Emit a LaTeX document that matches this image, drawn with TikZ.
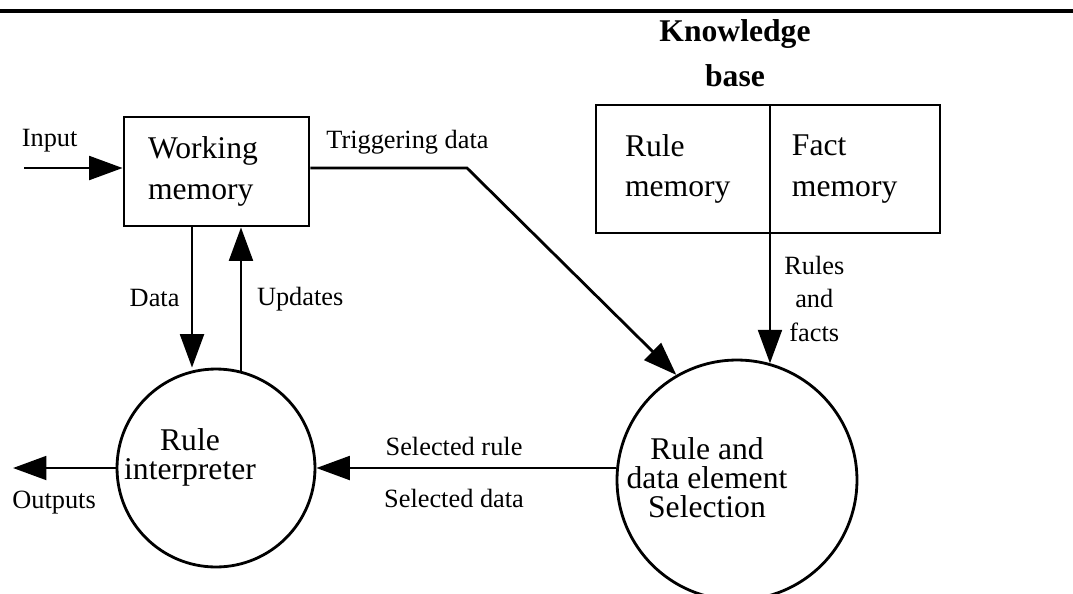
\documentclass[tikz,border=0pt]{standalone}
\usepackage{fontspec}
\setmainfont{Liberation Serif}
\usetikzlibrary{arrows.meta,positioning,calc}

\begin{document}
\begin{tikzpicture}[x=0.02cm, y=-0.02cm,
  box/.style={draw, line width=1.6pt, align=left, inner ysep=0pt, font=\fontsize{18}{23}\selectfont},
  proc/.style={draw, circle, line width=1.6pt, inner sep=0pt},
  proctext/.style={align=center, font=\fontsize{18}{16.5}\selectfont},
  lbl/.style={font=\fontsize{15}{19}\selectfont, align=center},
  arrow/.style={-{Triangle[length=19pt,width=13.5pt]}, line width=1.6pt},
]
  \useasboundingbox (0,0) rectangle (1073,593);
  \draw[line width=2.5pt] (0,11) -- (1073,11);

  \node[box, minimum height=2.18cm, inner xsep=0.48cm, text width=2.74cm] (wm) at (216.5,171.5) {Working\\memory};
  \node[box, minimum height=2.56cm, inner xsep=0.58cm, text width=2.32cm] (rulemem) at (683,169) {Rule\\memory};
  \node[box, minimum height=2.56cm, inner xsep=0.44cm, text width=2.52cm, right=-1.6pt of rulemem] (factmem) {Fact\\memory};
  \node[font=\fontsize{18}{25.5}\selectfont\bfseries, align=center] (kbtitle) at (735,53) {Knowledge\\base};

  \node[proc, minimum size=3.96cm] (interp) at (216,468) {};
  \node[proctext] (interptxt) at (190,457) {Rule\\interpreter};
  \node[proc, minimum size=4.8cm] (sel) at (737,480) {};
  \node[proctext] (seltxt) at (707,478) {Rule and\\data element\\Selection};

  \coordinate (inp) at (24,168);
  \coordinate (bend) at (467,168);
  \coordinate (out) at (13,468);
  \coordinate (kbsplit) at ($(rulemem.south east)!0.5!(factmem.south west)$);

  \draw[arrow] (inp) -- node[lbl, above=5pt, pos=0.26] (inputlbl) {Input} (inp -| wm.west);
  \draw[arrow] (wm.east |- bend) -- node[lbl, above=4pt, pos=0.62] (triglbl) {Triggering data} (bend) -- (sel.120);
  \draw[arrow] ([xshift=-0.49cm]wm.south) -- node[lbl, left=3pt] (datalbl) {Data} ([xshift=-0.49cm]wm.south |- interp.north);
  \draw[arrow] ([xshift=0.49cm]wm.south |- interp.75) -- node[lbl, right=5pt] (updlbl) {Updates} ([xshift=0.49cm]wm.south);
  \draw[arrow] (kbsplit) -- node[lbl, right=4pt] (rflbl) {Rules\\and\\facts} (kbsplit |- sel.74);
  \draw[arrow] (sel.west |- interp.east) -- node[lbl, above=3pt, pos=0.54] (srlbl) {Selected rule}
    node[lbl, below=8pt, pos=0.54] (sdlbl) {Selected data} (interp.east);
  \draw[arrow] (interp.west) -- node[lbl, below=9pt, pos=0.6] (outlbl) {Outputs} (out);
\end{tikzpicture}
\end{document}
